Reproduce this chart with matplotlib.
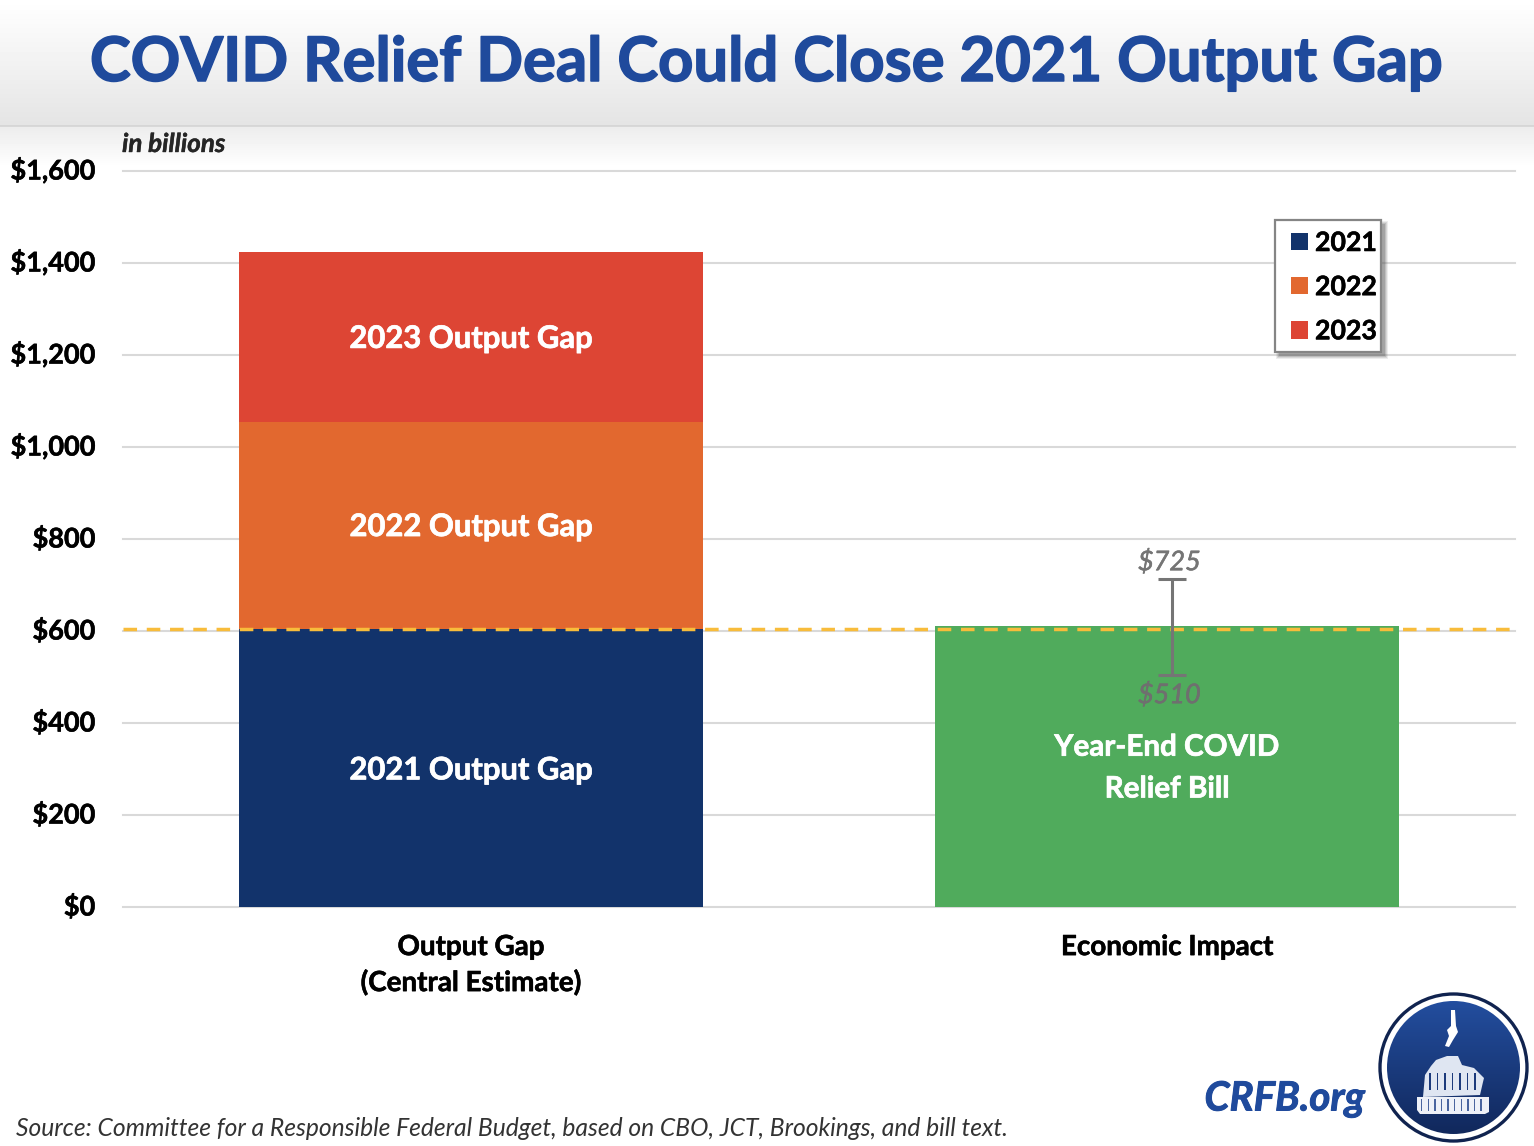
import numpy as np
import matplotlib
matplotlib.use('Agg')
import matplotlib.pyplot as plt
import matplotlib.patheffects as pe
from matplotlib.patches import Circle, Polygon, Rectangle
from matplotlib.transforms import ScaledTranslation

plt.rcParams['font.family'] = ['Lato', 'DejaVu Sans']

# values, in billions
categories = ['Output Gap\n(Central Estimate)', 'Economic Impact']
gap_years = ['2021', '2022', '2023']
gap_values = [604, 450, 370]
gap_labels = ['2021 Output Gap', '2022 Output Gap', '2023 Output Gap']
gap_colors = ['#12336b', '#e2682f', '#dd4534']
relief_value = 611
relief_low = 504
relief_high = 713
relief_low_label = '$510'
relief_high_label = '$725'
gap_2021_line = 604
y_ticks = [0, 200, 400, 600, 800, 1000, 1200, 1400, 1600]

W, H = 1534, 1146
fig = plt.figure(figsize=(W / 100, H / 100), dpi=100)


# Lato bold is a bit lighter than the reference face, thicken it slightly
def heavier(artist, width=0.5):
    artist.set_path_effects([pe.withStroke(linewidth=width, foreground=artist.get_color())])
    return artist


# page furniture is laid out in pixels on a full figure axes
bg = fig.add_axes([0, 0, 1, 1], zorder=0)
header = np.linspace(1.0, 0.895, 126).reshape(-1, 1)
shade = np.linspace(0.925, 1.0, 42).reshape(-1, 1)
bg.imshow(header, cmap='gray', vmin=0, vmax=1, extent=[0, W, 126, 0], aspect='auto')
bg.imshow(shade, cmap='gray', vmin=0, vmax=1, extent=[0, W, 168, 126], aspect='auto')
bg.plot([0, W], [126, 126], color='#d4d4d4', lw=1.2)

# logo
cx, cy = 1453.5, 1067.5
grad = np.linspace(0, 1, 200).reshape(-1, 1)
cmap = matplotlib.colors.LinearSegmentedColormap.from_list('logo', ['#234e9f', '#11285c'])
im = bg.imshow(grad, cmap=cmap, extent=[cx - 67, cx + 67, cy + 67, cy - 67], aspect='auto')
clip = Circle((cx, cy), 66.5, transform=bg.transData)
im.set_clip_path(clip)
bg.add_patch(Circle((cx, cy), 73.5, fill=False, ec='#10234f', lw=2.4))
white = dict(color='white', lw=0)
# statue
bg.add_patch(Polygon([(1451, 1010), (1455, 1010), (1456, 1026), (1458, 1032), (1453, 1040), (1449, 1047),
                      (1445, 1046), (1449, 1036), (1447, 1030), (1451, 1026)], **white))
# dome
bg.add_patch(Polygon([(1423, 1097), (1425, 1075), (1431, 1066), (1436, 1060), (1447, 1056),
                      (1458, 1056), (1462, 1065), (1474, 1068), (1484, 1078), (1483, 1082),
                      (1480, 1095)], color='#dfe6f2', lw=0))
for i in range(7):
    bg.add_patch(Rectangle((1429 + i * 7.5, 1073), 1.6, 17, color='#1b3a7c', lw=0))
bg.add_patch(Polygon([(1417, 1097), (1489, 1097), (1489, 1112), (1485, 1114), (1420, 1114), (1417, 1110)],
                     color='#eef1f8', lw=0))
for i in range(10):
    bg.add_patch(Rectangle((1421 + i * 6.6, 1099), 1.4, 12, color='#4a659f', lw=0))

bg.set_xlim(0, W)
bg.set_ylim(H, 0)
bg.axis('off')

heavier(bg.text(767, 63, 'COVID Relief Deal Could Close 2021 Output Gap', ha='center', va='center',
                fontsize=44.3, fontweight='bold', color='#1f4a9c'), 1.1)
heavier(bg.text(122, 144, 'in billions', ha='left', va='center', fontsize=18.7, fontweight='bold',
                style='italic', color='#262626'), 0.3)
bg.text(16, 1128, 'Source: Committee for a Responsible Federal Budget, based on CBO, JCT, Brookings, and bill text.',
        ha='left', va='center', fontsize=17.75, style='italic', color='#333333')
heavier(bg.text(1365, 1099, 'CRFB.org', ha='right', va='center', fontsize=29, fontweight='bold',
                style='italic', color='#1f4a9c'), 0.7)

# chart
ax = fig.add_axes([123 / W, 1 - 907 / H, (1515 - 123) / W, (907 - 171) / H], zorder=1)
ax.patch.set_alpha(0)
x = np.arange(len(categories))
bar_w = 464 / 696

bottom = 0
handles = []
label_shift = {'2021': -5, '2022': -3, '2023': -4}
for val, year, lab, col in zip(gap_values, gap_years, gap_labels, gap_colors):
    b = ax.bar(x[0], val, bar_w, bottom=bottom, color=col, label=year, zorder=3)
    handles.append(b)
    heavier(ax.text(x[0], bottom + val / 2 + label_shift[year], lab, ha='center', va='center',
                    color='white', fontsize=22.3, fontweight='bold', zorder=5))
    bottom += val

ax.bar(x[1], relief_value, bar_w, color='#50ab5c', zorder=3)
heavier(ax.text(x[1], 303, 'Year-End COVID\nRelief Bill', ha='center', va='center', color='white',
                fontsize=21.3, fontweight='bold', linespacing=1.6, zorder=5))

ax.axhline(gap_2021_line, color='#f8bc3b', lw=2.5, dashes=(3.9, 2.8), zorder=4)

err_x = x[1] + 0.0065
ax.errorbar(err_x, relief_value, yerr=[[relief_value - relief_low], [relief_high - relief_value]],
            color='#757575', lw=2.2, capsize=10, capthick=2.2, zorder=6)
heavier(ax.text(err_x - 0.003, relief_high + 36, relief_high_label, ha='center', va='center', color='#757575',
                fontsize=19.5, style='italic', zorder=6), 0.4)
heavier(ax.text(err_x - 0.003, relief_low - 44, relief_low_label, ha='center', va='center', color='#6f6f6f',
                fontsize=19.5, style='italic', zorder=6), 0.4)

ax.set_xlim(-0.5, 1.5)
ax.set_ylim(0, 1600)
ax.set_yticks(y_ticks)
ax.set_yticklabels([f'${v:,}' for v in y_ticks], fontsize=19.5, fontweight='bold', color='black')
ax.set_xticks(x)
ax.set_xticklabels(categories, fontsize=20, fontweight='bold', color='black', linespacing=1.4)
ax.tick_params(axis='y', length=0, pad=20)
ax.tick_params(axis='x', length=0, pad=19.5)
ax.grid(axis='y', color='#d9d9d9', lw=1.5, zorder=0)
ax.set_axisbelow(True)
for gl in ax.get_ygridlines():
    gl.set_clip_on(False)
for s in ax.spines.values():
    s.set_visible(False)
lift = ScaledTranslation(0, 2.5 / 100, fig.dpi_scale_trans)
for t in ax.get_yticklabels():
    t.set_transform(t.get_transform() + lift)
    heavier(t, 0.4)
for t in ax.get_xticklabels():
    heavier(t, 0.4)

# legend box with its soft shadow, in pixels
for grow, alpha in zip([3, 2, 1, 0], [0.10, 0.14, 0.18, 0.25]):
    ax.add_patch(Rectangle((1275 + 4 - grow, 220 + 4 - grow), 106 + 2 * grow, 132 + 2 * grow,
                           transform=bg.transData, color='#555555', alpha=alpha, lw=0, zorder=7, clip_on=False))
ax.add_patch(Rectangle((1275, 220), 106, 132, transform=bg.transData, fc='white', ec='#858585', lw=1.6,
                       zorder=7.1, clip_on=False))
leg = ax.legend(handles=handles, loc='upper left',
                bbox_to_anchor=(1291 / W, 1 - 231 / H), bbox_transform=fig.transFigure,
                prop=dict(size=19.2, weight='bold'), handlelength=0.64, handleheight=0.62, handletextpad=0.26,
                labelspacing=0.755, borderpad=0, borderaxespad=0, frameon=False)
leg.set_zorder(8)
for t in leg.get_texts():
    heavier(t, 0.4)

fig.savefig('out.png', dpi=100)
